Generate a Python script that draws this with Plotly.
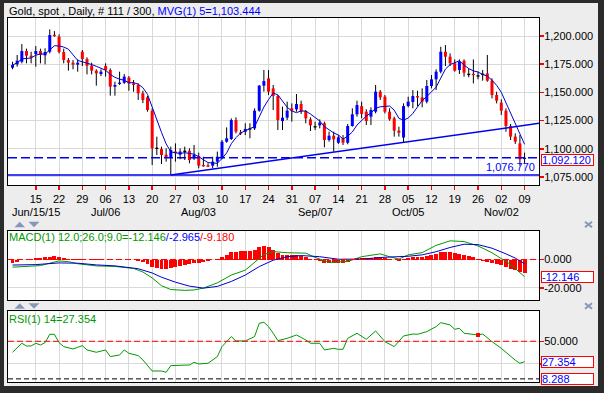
import plotly.graph_objects as go
import pandas as pd

W, H = 604, 393

# ---------------- data ----------------
opens = [1171.9, 1174.9, 1177.2, 1186.7, 1182.6, 1184.0, 1186.7, 1182.9, 1186.1, 1200.9,
         1199.4, 1185.8, 1178.7, 1176.4, 1174.6, 1186.1, 1179.6, 1173.7, 1169.3, 1166.3,
         1173.4, 1169.9, 1155.1, 1157.5, 1158.6, 1163.1, 1158.0, 1156.6, 1149.2, 1145.6,
         1133.8, 1100.4, 1099.8, 1094.8, 1092.4, 1097.6, 1094.8, 1097.8, 1098.2, 1091.6,
         1093.6, 1085.3, 1085.0, 1085.0, 1088.6, 1092.4, 1106.3, 1108.7, 1125.5, 1114.3,
         1115.2, 1117.6, 1118.1, 1133.8, 1156.0, 1162.5, 1153.6, 1146.8, 1124.6, 1127.6,
         1135.9, 1135.0, 1139.7, 1133.5, 1126.1, 1119.5, 1120.8, 1122.6, 1107.8, 1111.6,
         1105.4, 1109.3, 1105.4, 1120.2, 1130.6, 1137.9, 1132.9, 1128.5, 1132.9, 1150.7,
         1146.2, 1132.9, 1127.0, 1116.1, 1110.0, 1137.9, 1141.5, 1146.5, 1145.6, 1141.8,
         1155.7, 1161.6, 1168.4, 1186.1, 1181.7, 1175.8, 1169.9, 1178.1, 1166.0, 1166.3,
         1164.6, 1166.0, 1166.9, 1160.4, 1147.7, 1140.9, 1133.8, 1120.2, 1110.8, 1104.8,
         1090.9]
highs = [1177.2, 1183.2, 1192.9, 1188.8, 1186.1, 1191.1, 1188.8, 1189.1, 1205.9, 1204.4,
         1201.5, 1188.8, 1180.5, 1178.7, 1179.3, 1187.6, 1181.1, 1176.4, 1170.5, 1170.5,
         1175.8, 1171.3, 1159.5, 1168.4, 1166.3, 1164.5, 1161.0, 1158.0, 1151.5, 1146.8,
         1135.9, 1110.8, 1101.9, 1100.4, 1101.9, 1104.8, 1100.4, 1101.9, 1100.4, 1103.4,
         1096.6, 1093.0, 1087.1, 1093.0, 1097.5, 1107.8, 1119.0, 1127.0, 1127.9, 1116.7,
         1122.6, 1122.6, 1135.9, 1156.6, 1169.9, 1169.9, 1156.6, 1147.7, 1137.4, 1141.8,
         1140.3, 1148.6, 1142.7, 1134.4, 1127.9, 1124.1, 1126.1, 1124.1, 1115.2, 1115.2,
         1112.2, 1112.2, 1122.0, 1135.9, 1142.7, 1141.8, 1135.0, 1136.8, 1156.6, 1152.1,
         1147.7, 1135.9, 1128.5, 1119.6, 1140.3, 1146.2, 1152.1, 1151.5, 1153.6, 1161.0,
         1165.4, 1170.5, 1190.5, 1192.0, 1184.6, 1179.3, 1179.3, 1179.3, 1171.3, 1179.3,
         1168.4, 1169.9, 1183.2, 1162.5, 1150.6, 1143.9, 1135.9, 1122.0, 1113.7, 1112.2,
         1096.6]
lows = [1170.5, 1172.8, 1175.8, 1175.8, 1175.8, 1172.8, 1175.8, 1174.9, 1184.6, 1199.4,
        1184.6, 1175.8, 1169.3, 1170.5, 1168.4, 1173.4, 1166.0, 1166.0, 1156.0, 1164.5,
        1164.0, 1147.1, 1147.1, 1156.6, 1157.5, 1151.5, 1150.6, 1143.3, 1140.5, 1132.9,
        1085.6, 1094.5, 1086.5, 1088.6, 1076.77, 1088.6, 1090.7, 1090.1, 1087.1, 1090.1,
        1082.7, 1084.1, 1083.8, 1082.7, 1084.1, 1090.7, 1105.4, 1107.8, 1113.7, 1112.2,
        1112.2, 1109.3, 1116.7, 1132.9, 1150.7, 1147.7, 1134.4, 1116.7, 1116.7, 1125.5,
        1124.1, 1132.9, 1130.9, 1122.6, 1115.8, 1116.7, 1118.1, 1101.3, 1106.3, 1097.5,
        1104.3, 1103.4, 1104.0, 1119.6, 1128.5, 1127.0, 1121.1, 1121.1, 1131.4, 1143.3,
        1131.4, 1124.9, 1110.8, 1110.8, 1105.4, 1136.8, 1135.9, 1137.9, 1136.8, 1140.3,
        1153.6, 1152.1, 1166.9, 1173.4, 1173.4, 1168.4, 1166.3, 1164.0, 1163.4, 1158.0,
        1161.6, 1160.4, 1159.5, 1144.7, 1140.3, 1130.0, 1115.2, 1107.8, 1104.3, 1085.0,
        1087.1]
closes = [1174.3, 1178.1, 1186.7, 1182.6, 1181.1, 1186.7, 1183.5, 1185.8, 1200.9, 1200.0,
          1185.8, 1178.7, 1176.4, 1174.6, 1176.4, 1179.6, 1173.7, 1169.3, 1166.9, 1168.4,
          1169.9, 1155.1, 1156.6, 1158.6, 1164.0, 1158.0, 1156.6, 1149.2, 1143.3, 1134.4,
          1100.4, 1100.4, 1094.5, 1092.4, 1098.9, 1096.1, 1097.6, 1097.8, 1090.1, 1094.5,
          1085.0, 1084.7, 1084.4, 1088.6, 1093.0, 1106.3, 1109.3, 1125.5, 1115.2, 1113.7,
          1117.6, 1117.6, 1133.8, 1156.0, 1160.1, 1150.7, 1146.8, 1125.5, 1127.6, 1133.8,
          1133.8, 1139.7, 1132.9, 1127.0, 1120.8, 1119.5, 1123.2, 1107.8, 1111.6, 1108.4,
          1110.2, 1105.4, 1120.2, 1130.6, 1138.8, 1130.9, 1124.6, 1134.4, 1150.7, 1145.6,
          1132.9, 1126.1, 1116.1, 1114.3, 1137.9, 1141.8, 1146.8, 1145.8, 1141.8, 1155.7,
          1161.6, 1168.4, 1186.1, 1181.7, 1175.8, 1169.3, 1177.2, 1167.5, 1166.0, 1165.4,
          1164.6, 1166.0, 1160.4, 1147.7, 1142.7, 1133.8, 1120.2, 1110.8, 1106.3, 1090.7,
          1092.12]

tick_idx = [5, 10, 15, 20, 25, 30, 35, 40, 45, 50, 55, 60, 65, 70, 75, 80, 85, 90, 95, 100, 105, 110]
tick_days = ["15", "22", "29", "06", "13", "20", "27", "03", "10", "17", "24", "31",
             "07", "14", "21", "28", "05", "12", "19", "26", "02", "09"]
month_idx = [5, 20, 40, 65, 85, 105]
month_labels = ["Jun/15/15", "Jul/06", "Aug/03", "Sep/07", "Oct/05", "Nov/02"]

price_ticks = [1075, 1100, 1125, 1150, 1175, 1200]
last_close = 1092.12
range_low = 1076.77
trend_idx = [34, 113.1]
trend_val = [1076.77, 1122.6]
ma_period = 5
ma_label_value = 1103.444

macd_idx = [0, 3, 6, 8, 10, 12, 14, 18, 22, 26, 28, 30, 32, 34, 37, 39, 41, 44, 47, 50,
            52, 54, 56, 59, 63, 65, 68, 72, 75, 79, 81, 83, 85, 88, 91, 94, 97, 100, 103, 107, 110]
macd_val = [-5.4, -5.0, -4.3, -2.6, -1.0, -1.5, -3.0, -4.5, -4.9, -6.3, -8.8, -13.0, -18.5, -21.2,
            -21.8, -21.5, -20.2, -16.5, -11.0, -7.5, -2.0, 3.5, 5.6, 4.8, 4.5, 1.5, -2.0, -1.4,
            2.0, 4.0, 2.0, 0.3, 3.3, 4.9, 10.0, 13.2, 12.7, 9.6, 4.8, -3.5, -12.146]
signal_idx = [0, 5, 10, 14, 18, 22, 27, 30, 32, 35, 38, 41, 44, 47, 50, 53, 56, 59, 62, 66,
              70, 75, 80, 85, 88, 91, 94, 97, 100, 103, 106, 108, 110]
signal_val = [-3.9, -3.6, -2.4, -2.6, -3.8, -4.5, -6.5, -9.5, -12.5, -16.0, -18.8, -20.2, -19.0,
              -15.5, -11.0, -5.0, -0.5, 2.0, 2.8, 2.0, 0.2, 0.3, 1.6, 2.3, 3.3, 5.5, 8.5, 10.8,
              10.5, 8.0, 4.0, 1.0, -2.965]
hist_val = [-2.5, -2.0, -0.6, -0.3, 0.3, 0.8, 1.0, 1.5, 2.0, 2.3,
            1.5, 1.0, 0.5, 0.3, 0.2, -0.3, -0.5, -0.3, 0.2, 0.3,
            -0.2, -0.3, -0.5, -0.3, -0.2, -0.3, -0.5, -1.0, -2.0, -3.5,
            -5.0, -6.0, -6.5, -6.8, -6.2, -5.5, -4.8, -4.0, -3.2, -2.6,
            -2.2, -1.6, -1.0, -0.5, 0.2, 1.5, 3.0, 5.0, 5.5, 5.8,
            6.0, 6.2, 7.0, 8.5, 9.2, 9.0, 7.0, 4.5, 3.2, 3.0,
            3.0, 3.0, 2.5, 1.5, 0.5, -0.5, -1.0, -2.2, -2.5, -2.8,
            -2.8, -2.5, -1.5, -0.5, 0.8, 1.3, 1.0, 1.2, 2.0, 2.0,
            1.3, 0.5, -0.5, -1.0, 0.2, 0.8, 1.5, 1.8, 1.8, 2.5,
            3.2, 4.2, 5.6, 5.5, 5.0, 4.3, 3.8, 3.0, 2.3, 1.6,
            0.3, -0.8, -1.5, -2.5, -3.5, -4.2, -5.5, -6.5, -7.5, -8.5, -9.18]
macd_ticks = [0, -20]

rsi_idx = [0, 2, 3, 4, 5, 6, 7, 8, 9, 10, 11, 13, 14, 15, 16, 18, 20, 21, 23, 24, 25, 27, 28,
           30, 32, 33, 34, 36, 38, 39, 40, 42, 44, 45, 47, 48, 50, 52, 53, 54, 55, 56, 57, 59,
           61, 63, 64, 66, 67, 69, 70, 71, 72, 74, 76, 78, 79, 80, 82, 84, 86, 87, 89, 90, 91,
           92, 94, 95, 96, 97, 99, 100, 101, 103, 105, 107, 108, 109, 110]
rsi_val = [37.8, 47.8, 44.8, 44.8, 47.8, 45.9, 48.5, 57.8, 57.8, 48.5, 44.1, 41.5, 43.3, 45.2,
           40.4, 37.8, 40.4, 33.0, 34.8, 40.4, 36.7, 34.1, 29.3, 17.0, 17.0, 15.6, 23.0, 23.0,
           23.7, 26.7, 24.8, 25.6, 33.0, 44.1, 55.2, 50.4, 50.4, 55.2, 70.0, 71.1, 66.3, 58.9,
           50.7, 53.3, 57.0, 51.5, 47.8, 47.8, 40.4, 42.2, 41.1, 41.1, 53.3, 58.9, 52.2, 61.5,
           55.2, 49.6, 44.1, 55.9, 58.1, 57.8, 60.7, 63.3, 66.3, 70.7, 68.1, 63.3, 64.4, 58.9,
           57.8, 57.0, 58.1, 49.6, 42.2, 33.0, 29.0, 25.6, 27.354]
rsi_mark_idx = [100]
rsi_mark_val = [57.0]
rsi_grid = [25, 50]
rsi_tick_labels = ["", "50.000"]   # the 25 label is hidden behind the value box in the original
rsi_mid = 50
rsi_low_level = 8.288

# ---------------- styling constants ----------------
FONT = "Liberation Sans, Arial, sans-serif"
BG = "#ededed"
GRID = "#d9d9d9"
UP, DOWN, FLAT = "#0000ff", "#ff0000", "#000000"
BLUE_LINE = "#0000ee"
GREEN = "#009900"
XR = [-0.97, 113.1]


def px(x):
    return x / W


def py(y):
    return 1 - y / H


n = len(closes)
idx = list(range(n))
ma = pd.Series(closes).rolling(ma_period, min_periods=1).mean().tolist()

# wick segments
wx, wy = [], []
for i in idx:
    wx += [i, i, None]
    wy += [lows[i], highs[i], None]

MIN_BODY = 1.2


def bodies(cond):
    xs, ys = [], []
    for i in idx:
        o, c = opens[i], closes[i]
        if cond(o, c):
            lo, hi = min(o, c), max(o, c)
            if hi - lo < MIN_BODY:
                mid = (hi + lo) / 2
                lo, hi = mid - MIN_BODY / 2, mid + MIN_BODY / 2
            xs += [i, i, None]
            ys += [lo, hi, None]
    return xs, ys


fig = go.Figure()
fig.add_trace(go.Scatter(x=wx, y=wy, mode="lines", line=dict(color="#000000", width=1),
                         xaxis="x", yaxis="y", hoverinfo="skip"))
for cond, col in [(lambda o, c: c > o, UP), (lambda o, c: c < o, DOWN), (lambda o, c: c == o, FLAT)]:
    bx, by = bodies(cond)
    fig.add_trace(go.Scatter(x=bx, y=by, mode="lines", line=dict(color=col, width=3),
                             xaxis="x", yaxis="y", hoverinfo="skip"))
fig.add_trace(go.Scatter(x=idx, y=ma, mode="lines", line=dict(color="#0000cc", width=1),
                         xaxis="x", yaxis="y"))
fig.add_trace(go.Scatter(x=trend_idx, y=trend_val, mode="lines", line=dict(color=BLUE_LINE, width=1.5),
                         xaxis="x", yaxis="y"))

# MACD
fig.add_trace(go.Bar(x=idx, y=hist_val, width=0.85, marker=dict(color="#ff0000", line=dict(width=0)),
                     xaxis="x2", yaxis="y2"))
fig.add_trace(go.Scatter(x=macd_idx, y=macd_val, mode="lines", line=dict(color=GREEN, width=1),
                         xaxis="x2", yaxis="y2"))
fig.add_trace(go.Scatter(x=signal_idx, y=signal_val, mode="lines", line=dict(color="#0000cc", width=1),
                         xaxis="x2", yaxis="y2"))

# RSI
fig.add_trace(go.Scatter(x=rsi_idx, y=rsi_val, mode="lines", line=dict(color=GREEN, width=1),
                         xaxis="x3", yaxis="y3"))
fig.add_trace(go.Scatter(x=rsi_mark_idx, y=rsi_mark_val, mode="markers",
                         marker=dict(color="#ff0000", size=4, symbol="square"),
                         xaxis="x3", yaxis="y3"))

axis_font = dict(family=FONT, size=11, color="#000000")
common_x = dict(range=XR, tickmode="array", tickvals=tick_idx, showgrid=True, gridcolor=GRID,
                gridwidth=1, zeroline=False, showline=True, mirror=True, linecolor="#000000",
                linewidth=1, fixedrange=True)
common_y = dict(side="right", showgrid=True, gridcolor=GRID, gridwidth=1, zeroline=False,
                showline=True, mirror=True, linecolor="#000000", linewidth=1, ticks="outside",
                ticklen=4, tickwidth=1.5, tickcolor="#ff0000", tickfont=axis_font, fixedrange=True,
                tickmode="array", ticklabelstandoff=-2)

fig.update_layout(
    width=W, height=H, margin=dict(l=0, r=0, t=0, b=0, autoexpand=False),
    paper_bgcolor=BG, plot_bgcolor="#ffffff", showlegend=False, hovermode=False,
    font=dict(family=FONT, size=11, color="#000000"),
    xaxis=dict(common_x, domain=[px(8), px(539)], anchor="y", ticktext=tick_days,
               ticks="outside", ticklen=4, tickcolor="#ff0000", tickwidth=1.5, tickfont=axis_font),
    yaxis=dict(common_y, domain=[py(185), py(18)], anchor="x", range=[1067.9, 1216.0],
               tickvals=price_ticks, ticktext=[f"{v:,.3f}" for v in price_ticks]),
    xaxis2=dict(common_x, domain=[px(8), px(539)], anchor="y2", showticklabels=False, ticks=""),
    yaxis2=dict(common_y, domain=[py(300), py(230.5)], anchor="x2", range=[-28.6, 20.5],
                tickvals=macd_ticks, ticktext=[f"{v:.3f}" for v in macd_ticks]),
    xaxis3=dict(common_x, domain=[px(8), px(539)], anchor="y3", showticklabels=False, ticks=""),
    yaxis3=dict(common_y, domain=[py(382), py(311.3)], anchor="x3", range=[4.8, 83.3],
                tickvals=rsi_grid, ticktext=rsi_tick_labels),
    bargap=0,
)

shapes = []
# horizontal levels in main chart
shapes.append(dict(type="line", xref="x domain", yref="y", x0=0, x1=1, y0=range_low, y1=range_low,
                   line=dict(color=BLUE_LINE, width=1.5)))
shapes.append(dict(type="line", xref="x domain", yref="y", x0=0, x1=1, y0=last_close, y1=last_close,
                   line=dict(color=BLUE_LINE, width=1.5, dash="9px,4px")))
# MACD zero line
shapes.append(dict(type="line", xref="x2 domain", yref="y2", x0=0, x1=1, y0=0, y1=0,
                   line=dict(color="#ff0000", width=1, dash="6px,3px")))
# RSI lines
shapes.append(dict(type="line", xref="x3 domain", yref="y3", x0=0, x1=1, y0=rsi_mid, y1=rsi_mid,
                   line=dict(color="#ff0000", width=1, dash="6px,3px")))
shapes.append(dict(type="line", xref="x3 domain", yref="y3", x0=0, x1=1, y0=rsi_low_level,
                   y1=rsi_low_level, line=dict(color="#000000", width=1, dash="5px,3px")))

# panel control strips (triangles and close mark)
TRI = "#8797b8"
for top in (221.7, 303.3):
    bot = top + 5.5
    shapes.append(dict(type="path", xref="paper", yref="paper", fillcolor=TRI, line=dict(width=0),
                       path=f"M {px(14.5)},{py(bot)} L {px(25)},{py(bot)} L {px(19.75)},{py(top)} Z"))
    shapes.append(dict(type="path", xref="paper", yref="paper", fillcolor=TRI, line=dict(width=0),
                       path=f"M {px(28.5)},{py(top)} L {px(39.5)},{py(top)} L {px(34)},{py(bot)} Z"))
    shapes.append(dict(type="line", xref="paper", yref="paper", x0=px(585), x1=px(592),
                       y0=py(top), y1=py(bot), line=dict(color=TRI, width=2)))
    shapes.append(dict(type="line", xref="paper", yref="paper", x0=px(585), x1=px(592),
                       y0=py(bot), y1=py(top), line=dict(color=TRI, width=2)))

# outer dark frame
FR = "#2b2b2b"
for x0, x1, y0, y1 in [(0, 4, 0, H), (598, W, 0, H), (0, W, 0, 3), (0, W, 386, H)]:
    shapes.append(dict(type="rect", xref="paper", yref="paper", x0=px(x0), x1=px(x1),
                       y0=py(y1), y1=py(y0), fillcolor=FR, line=dict(width=0), layer="above"))
fig.update_layout(shapes=shapes)

ann = []
ann.append(dict(xref="paper", yref="paper", x=px(7), y=py(11.5), xanchor="left", yanchor="middle",
                showarrow=False, font=dict(family=FONT, size=11, color="#000000"),
                text=f"Gold, spot , Daily, # {n} / 300, "
                     f"<span style='color:#0000ff'>MVG(1) {ma_period}={ma_label_value:,.3f}</span>"))
ann.append(dict(xref="paper", yref="paper", x=px(7), y=py(236.5), xanchor="left", yanchor="middle",
                showarrow=False, font=dict(family=FONT, size=11, color=GREEN),
                text=f"MACD(1) 12.0;26.0;9.0={macd_val[-1]:.3f}"
                     f"<span style='color:#0000ff'>/{signal_val[-1]:.3f}</span>"
                     f"<span style='color:#ff0000'>/{hist_val[-1]:.3f}</span>"))
ann.append(dict(xref="paper", yref="paper", x=px(7), y=py(318.5), xanchor="left", yanchor="middle",
                showarrow=False, font=dict(family=FONT, size=11, color=GREEN),
                text=f"RSI(1) 14={rsi_val[-1]:.3f}"))
ann.append(dict(xref="paper", yref="y", x=px(537), y=range_low, xanchor="right", yanchor="bottom",
                yshift=0, showarrow=False, font=dict(family=FONT, size=11, color="#0000ff"),
                text=f"{range_low:,.3f}"))


def box(yref, yval, text, yshift=0):
    return dict(xref="paper", yref=yref, x=px(541), y=yval, xanchor="left", yanchor="middle",
                showarrow=False, width=51, height=10, align="left", borderpad=0, yshift=yshift,
                bordercolor="#ff0000", borderwidth=1, bgcolor="#ffffff",
                font=dict(family=FONT, size=11, color="#0000ff"), text=text)


ann.append(box("y", last_close, f"{last_close:,.3f}", yshift=-2))
ann.append(box("y2", macd_val[-1], f"{macd_val[-1]:.3f}"))
ann.append(box("y3", rsi_val[-1], f"{rsi_val[-1]:.3f}"))
ann.append(box("y3", rsi_low_level, f"{rsi_low_level:.3f}"))

for mi, ml in zip(month_idx, month_labels):
    ann.append(dict(xref="x", yref="paper", x=mi, y=py(211.7), xanchor="center", yanchor="middle",
                    showarrow=False, font=dict(family=FONT, size=11, color="#000000"), text=ml))
fig.update_layout(annotations=ann)

fig.write_html("out.html", config={"displayModeBar": False, "staticPlot": True},
               post_script="document.body.style.margin='0px';"
                           "document.body.style.overflow='hidden';")
